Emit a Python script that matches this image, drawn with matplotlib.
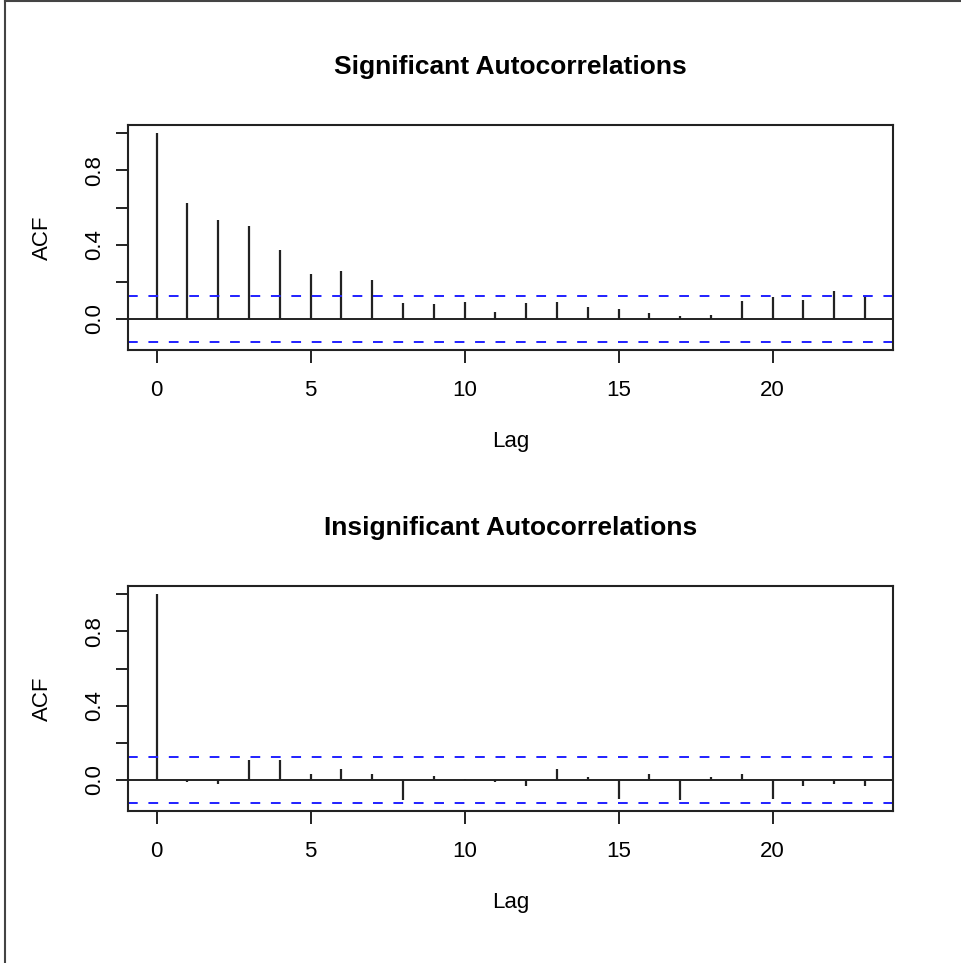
import matplotlib
matplotlib.use("Agg")
import matplotlib.pyplot as plt
import numpy as np
from matplotlib.lines import Line2D

plt.rcParams['font.family'] = ['Liberation Sans', 'DejaVu Sans']

lags = list(range(24))
acf_sig = [1.0, 0.625, 0.534, 0.503, 0.372, 0.242, 0.258, 0.208, 0.084, 0.080,
           0.093, 0.036, 0.084, 0.089, 0.066, 0.054, 0.032, 0.014, 0.020, 0.097,
           0.120, 0.104, 0.150, 0.125]
acf_insig = [1.0, -0.012, -0.023, 0.108, 0.108, 0.031, 0.056, 0.032, -0.111, 0.020,
             0.005, -0.012, -0.031, 0.056, 0.016, -0.102, 0.032, -0.111, 0.016, 0.031,
             -0.102, -0.031, -0.024, -0.034]
clim = 0.123
titles = ["Significant Autocorrelations", "Insignificant Autocorrelations"]
yticks = [0.0, 0.2, 0.4, 0.6, 0.8, 1.0]
ytick_labels = ["0.0", "", "0.4", "", "0.8", ""]
xticks = [0, 5, 10, 15, 20]

W, H = 962, 963
fig = plt.figure(figsize=(W / 100, H / 100), dpi=100)

# outer frame (screenshot border)
fig.add_artist(Line2D([4.5 / W, 4.5 / W], [0, 1 - 1.5 / H], transform=fig.transFigure, color='#444444', lw=1.5))
fig.add_artist(Line2D([4.5 / W, 1], [1 - 1.5 / H, 1 - 1.5 / H], transform=fig.transFigure, color='#444444', lw=1.5))

left = 128.3 / W
width = (893.3 - 128.3) / W
panels = [(350, acf_sig), (811, acf_insig)]

for (bottom_px, vals), title in zip(panels, titles):
    ax = fig.add_axes([left, 1 - bottom_px / H, width, 225 / H])
    ax.vlines(lags, 0, vals, color='#222222', lw=1.6)
    ax.axhline(0, color='#222222', lw=1.4)
    for c in (clim, -clim):
        ax.axhline(c, color='#2020ff', lw=1.4, linestyle=(0, (5, 5.5)))
    ymin = min(min(vals), -clim)
    ymax = max(max(vals), clim)
    rng = ymax - ymin
    ax.set_ylim(ymin - 0.04 * rng, ymax + 0.04 * rng)
    ax.set_xlim(-0.04 * 23, 23 * 1.04)
    ax.set_yticks(yticks)
    ax.set_yticklabels(ytick_labels, rotation=90, va='center', fontsize=16)
    ax.set_xticks(xticks)
    ax.set_xticklabels([str(x) for x in xticks], fontsize=16)
    ax.tick_params(axis='both', length=9, width=1.4, color='#222222')
    ax.tick_params(axis='y', pad=8)
    ax.tick_params(axis='x', pad=12.5)
    for s in ax.spines.values():
        s.set_linewidth(1.5)
        s.set_color('#222222')
    ax.set_ylabel("ACF", fontsize=16, labelpad=22)
    ax.set_xlabel("Lag", fontsize=16, labelpad=22)
    ax.set_title(title, fontsize=19, fontweight='bold', pad=36.5)

fig.savefig("out.png", dpi=100)
